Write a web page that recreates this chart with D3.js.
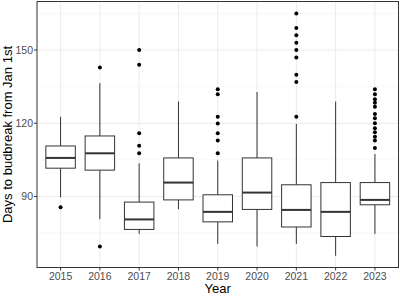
<!DOCTYPE html>
<html><head><meta charset="utf-8">
<script src="https://cdn.jsdelivr.net/npm/d3@7"></script>
<style>body{margin:0;background:#fff}svg{display:block}</style>
</head><body><svg id="c" width="400" height="296"></svg>
<script>
const years = ["2015","2016","2017","2018","2019","2020","2021","2022","2023"];
const whiskerLow = [89.7, 80.7, 74.7, 84.8, 70.6, 69.5, 70.6, 65.7, 74.7];
const q1 = [101.6, 100.8, 76.5, 88.6, 79.6, 84.7, 77.5, 73.6, 86.6];
const median = [105.8, 107.7, 80.6, 95.7, 83.7, 91.6, 84.5, 83.7, 88.6];
const q3 = [110.7, 114.8, 87.7, 105.8, 90.7, 105.8, 94.8, 95.7, 95.7];
const whiskerHigh = [122.7, 136.4, 103.6, 128.9, 104.7, 132.8, 119.7, 128.9, 107.4];
const outliers = [
  [85.6],
  [142.9, 69.5],
  [150, 144, 115.9, 110.8, 107.7],
  [],
  [133.9, 131.9, 122.7, 119.9, 115.9, 112.9, 107.7],
  [],
  [165, 159, 156.1, 153, 150, 147, 139.9, 136.9, 122.7],
  [],
  [133.9, 131.9, 129.8, 128.4, 126.8, 123.8, 122.1, 120, 118, 116.3, 114.5, 112.9, 109.9]
];
const yTicks = [90, 120, 150];
const yMinor = [75, 105, 135, 165];

const svg = d3.select("#c");
const L = 37, R = 398.5, T = 1.5, B = 267.5;
const step = (R-L)/9.2;
const x = d3.scalePoint().domain(years).range([L + 0.6*step, R - 0.6*step]);
const cx = d => x(d);
const y = d3.scaleLinear().domain([60.9, 169.9]).range([B, T]);
const bw = 0.75 * step;
const font = "Liberation Sans, Arial, sans-serif";

// grid
const g = svg.append("g");
yMinor.forEach(v => g.append("line").attr("x1", L).attr("x2", R).attr("y1", y(v)).attr("y2", y(v)).attr("stroke", "#f2f2f2").attr("stroke-width", 0.6));
yTicks.forEach(v => g.append("line").attr("x1", L).attr("x2", R).attr("y1", y(v)).attr("y2", y(v)).attr("stroke", "#ebebeb").attr("stroke-width", 1));
years.forEach(d => g.append("line").attr("x1", cx(d)).attr("x2", cx(d)).attr("y1", T).attr("y2", B).attr("stroke", "#ebebeb").attr("stroke-width", 1));

// boxes
const col = "#333333";
years.forEach((d, i) => {
  const c = cx(d);
  g.append("line").attr("x1", c).attr("x2", c).attr("y1", y(q3[i])).attr("y2", y(whiskerHigh[i])).attr("stroke", col).attr("stroke-width", 1);
  g.append("line").attr("x1", c).attr("x2", c).attr("y1", y(q1[i])).attr("y2", y(whiskerLow[i])).attr("stroke", col).attr("stroke-width", 1);
  g.append("rect").attr("x", c - bw/2).attr("width", bw).attr("y", y(q3[i])).attr("height", y(q1[i]) - y(q3[i]))
    .attr("fill", "#fff").attr("stroke", col).attr("stroke-width", 1);
  g.append("line").attr("x1", c - bw/2).attr("x2", c + bw/2).attr("y1", y(median[i])).attr("y2", y(median[i])).attr("stroke", col).attr("stroke-width", 2);
  outliers[i].forEach(v => g.append("circle").attr("cx", c).attr("cy", y(v)).attr("r", 2).attr("fill", "#000"));
});

// border
svg.append("rect").attr("x", L).attr("y", T).attr("width", R-L).attr("height", B-T).attr("fill", "none").attr("stroke", "#333333").attr("stroke-width", 1);

// axes
const xa = svg.append("g").attr("transform", `translate(0,${B})`);
years.forEach(d => {
  xa.append("line").attr("x1", cx(d)).attr("x2", cx(d)).attr("y1", 0).attr("y2", 3).attr("stroke", "#333");
  xa.append("text").attr("x", cx(d)).attr("y", 12).attr("text-anchor", "middle").attr("font-family", font).attr("font-size", 10.5).attr("fill", "#4d4d4d").text(d);
});
const ya = svg.append("g");
yTicks.forEach(v => {
  ya.append("line").attr("x1", L-3).attr("x2", L).attr("y1", y(v)).attr("y2", y(v)).attr("stroke", "#333");
  ya.append("text").attr("x", L-4).attr("y", y(v)).attr("dy", "0.35em").attr("text-anchor", "end").attr("font-family", font).attr("font-size", 10.5).attr("fill", "#4d4d4d").text(v);
});
svg.append("text").attr("x", (L+R)/2).attr("y", 293).attr("text-anchor", "middle").attr("font-family", font).attr("font-size", 13).attr("fill", "#000").text("Year");
svg.append("text").attr("transform", `translate(12,${(T+B)/2}) rotate(-90)`).attr("text-anchor", "middle").attr("font-family", font).attr("font-size", 13).attr("fill", "#000").text("Days to budbreak from Jan 1st");
</script></body></html>
